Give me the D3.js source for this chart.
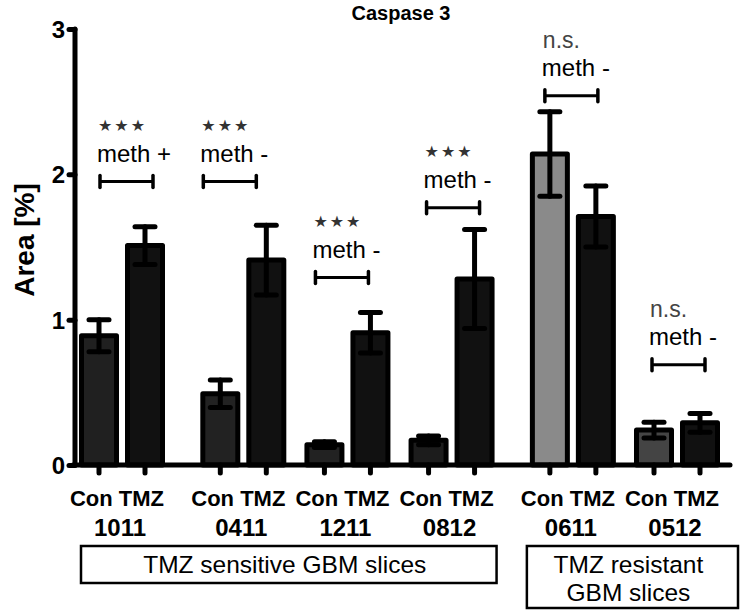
<!DOCTYPE html>
<html>

<head>
    <meta charset="utf-8">
    <style>
        body {
            margin: 0;
            background: white;
        }

        svg {
            font-family: 'Liberation Sans', Arial, sans-serif;
        }
    </style>
</head>

<body>
    <svg width="740" height="612"></svg>
</body>

<script src="https://d3js.org/d3.v7.min.js"></script>

<script>
    // values
    let groups = ["1011", "0411", "1211", "0812", "0611", "0512"]
    let treatments = ["Con", "TMZ"]
    let conMean = [0.89, 0.49, 0.14, 0.17, 2.14, 0.24]
    let conErr = [0.11, 0.095, 0.02, 0.03, 0.29, 0.055]
    let tmzMean = [1.51, 1.41, 0.91, 1.28, 1.71, 0.29]
    let tmzErr = [0.13, 0.24, 0.14, 0.34, 0.21, 0.065]
    let sigLabels = ["★★★", "★★★", "★★★", "★★★", "n.s.", "n.s."]
    let methLabels = ["meth +", "meth -", "meth -", "meth -", "meth -", "meth -"]
    let bracketLevel = [1.95, 1.95, 1.29, 1.77, 2.54, 0.69]
    let yTicks = [0, 1, 2, 3]
    let setNames = [["TMZ sensitive GBM slices"], ["TMZ resistant", "GBM slices"]]
    let setGroups = [["1011", "0411", "1211", "0812"], ["0611", "0512"]]

    // styling per group (control bar shade)
    let conFill = ["#202020", "#222", "#222", "#1c1c1c", "#8a8a8a", "#444"]
    let tmzFill = "#111"
    // extra spacing before some groups, and bracket nudges
    let wideGaps = [0, 1, 1, 1, 2, 2]
    let bracketShift = [-22, -40, -32, -25, -28, -25]

    let svg = d3.select("svg")

    let y = d3.scaleLinear()
        .domain([0, 3])
        .range([465, 29])

    let gx = d3.scaleLinear()
        .domain([0, 5 + 2 * 0.165])
        .range([122, 677])

    let groupX = (i) => gx(i + 0.165 * wideGaps[i])

    let inner = d3.scalePoint()
        .domain(treatments)
        .range([-23, 23])

    let bars = []
    groups.forEach((g, i) => {
        bars.push({ g: g, i: i, t: "Con", mean: conMean[i], err: conErr[i], fill: conFill[i] })
        bars.push({ g: g, i: i, t: "TMZ", mean: tmzMean[i], err: tmzErr[i], fill: tmzFill })
    })
    let barX = d => groupX(d.i) + inner(d.t)

    // title
    svg.append("text")
        .attr("x", 401)
        .attr("y", 20)
        .attr("text-anchor", "middle")
        .style("font-weight", "bold")
        .style("font-size", "20px")
        .text("Caspase 3")

    // bars
    svg.selectAll(".bar")
        .data(bars)
        .join("rect")
        .attr("class", "bar")
        .attr("x", d => barX(d) - 17.5)
        .attr("width", 35)
        .attr("y", d => y(d.mean))
        .attr("height", d => y(0) - y(d.mean))
        .style("fill", d => d.fill)
        .style("stroke", "black")
        .style("stroke-width", 5)
        .style("stroke-linejoin", "round")

    // error bars
    let eb = svg.selectAll(".err")
        .data(bars)
        .join("g")
        .attr("class", "err")
        .style("stroke", "black")
        .style("stroke-width", 5)
        .style("stroke-linecap", "round")

    eb.append("line")
        .attr("x1", barX).attr("x2", barX)
        .attr("y1", d => y(d.mean - d.err))
        .attr("y2", d => y(d.mean + d.err))
    eb.append("line")
        .attr("x1", d => barX(d) - 10).attr("x2", d => barX(d) + 10)
        .attr("y1", d => y(d.mean + d.err))
        .attr("y2", d => y(d.mean + d.err))
    eb.append("line")
        .attr("x1", d => barX(d) - 10).attr("x2", d => barX(d) + 10)
        .attr("y1", d => y(d.mean - d.err))
        .attr("y2", d => y(d.mean - d.err))

    // y axis
    let yAxis = svg.append("g")
        .attr("transform", "translate(75,0)")
        .call(d3.axisLeft(y).tickValues(yTicks).tickFormat(d3.format("d")).tickSize(6).tickPadding(4))
    yAxis.select(".domain").remove()
    yAxis.selectAll(".tick line")
        .style("stroke-width", 5)
        .style("stroke-linecap", "round")
    yAxis.selectAll(".tick text")
        .style("font-family", "'Liberation Sans', Arial, sans-serif")
        .style("font-size", "24px")
        .style("font-weight", "bold")
        .attr("dy", "0.36em")

    svg.append("line")
        .attr("x1", 75).attr("x2", 75)
        .attr("y1", y(3)).attr("y2", y(0))
        .style("stroke", "black")
        .style("stroke-width", 5)
        .style("stroke-linecap", "round")

    // x axis
    svg.append("line")
        .attr("x1", 73).attr("x2", 730)
        .attr("y1", y(0)).attr("y2", y(0))
        .style("stroke", "black")
        .style("stroke-width", 5)
        .style("stroke-linecap", "round")

    svg.selectAll(".xtick")
        .data(bars)
        .join("line")
        .attr("class", "xtick")
        .attr("x1", barX).attr("x2", barX)
        .attr("y1", y(0)).attr("y2", y(0) + 8)
        .style("stroke", "black")
        .style("stroke-width", 5)
        .style("stroke-linecap", "round")

    // y label
    svg.append("text")
        .attr("transform", "translate(34,240) rotate(-90)")
        .attr("text-anchor", "middle")
        .style("font-weight", "bold")
        .style("font-size", "28px")
        .text("Area [%]")

    // category labels
    svg.selectAll(".treat")
        .data(groups)
        .join("text")
        .attr("class", "treat")
        .attr("x", (d, i) => groupX(i) - 5)
        .attr("y", 506)
        .attr("text-anchor", "middle")
        .style("font-weight", "bold")
        .style("font-size", "22px")
        .text(treatments.join(" "))

    svg.selectAll(".gname")
        .data(groups)
        .join("text")
        .attr("class", "gname")
        .attr("x", (d, i) => groupX(i) - 2)
        .attr("y", 536)
        .attr("text-anchor", "middle")
        .style("font-weight", "bold")
        .style("font-size", "24px")
        .text(d => d)

    // set boxes
    let boxPad = [[-41, 45], [-46, 61]]
    let boxH = [37, 62]
    setGroups.forEach((sg, k) => {
        let x0 = groupX(groups.indexOf(sg[0])) + boxPad[k][0]
        let x1 = groupX(groups.indexOf(sg[sg.length - 1])) + boxPad[k][1]
        svg.append("rect")
            .attr("x", x0).attr("y", 546)
            .attr("width", x1 - x0).attr("height", boxH[k])
            .style("fill", "white")
            .style("stroke", "black")
            .style("stroke-width", 2.5)
        svg.selectAll(".set" + k)
            .data(setNames[k])
            .join("text")
            .attr("x", (x0 + x1) / 2 - 4)
            .attr("y", (d, j) => 573 + j * 28)
            .attr("text-anchor", "middle")
            .style("font-size", "24.5px")
            .text(d => d)
    })

    // significance annotations
    groups.forEach((g, i) => {
        let bx = groupX(i) + bracketShift[i]
        let by = y(bracketLevel[i])
        let ann = svg.append("g")

        ann.append("line")
            .attr("x1", bx).attr("x2", bx + 53)
            .attr("y1", by).attr("y2", by)
            .style("stroke", "black")
            .style("stroke-width", 3)
        ann.selectAll(".end")
            .data([bx, bx + 53])
            .join("line")
            .attr("x1", d => d).attr("x2", d => d)
            .attr("y1", by - 6).attr("y2", by + 6)
            .style("stroke", "black")
            .style("stroke-width", 3.5)
            .style("stroke-linecap", "round")

        ann.append("text")
            .attr("x", bx - 3)
            .attr("y", by - 20)
            .style("font-size", "24px")
            .text(methLabels[i])

        let stars = sigLabels[i] != "n.s."
        ann.append("text")
            .attr("x", bx - 2)
            .attr("y", stars ? by - 51 : by - 48)
            .style("font-size", stars ? "16px" : "23px")
            .style("font-family", stars ? "'DejaVu Sans', sans-serif" : null)
            .style("letter-spacing", stars ? "2px" : null)
            .style("fill", stars ? "#333" : "#444")
            .text(sigLabels[i])
    })
</script>

</html>
